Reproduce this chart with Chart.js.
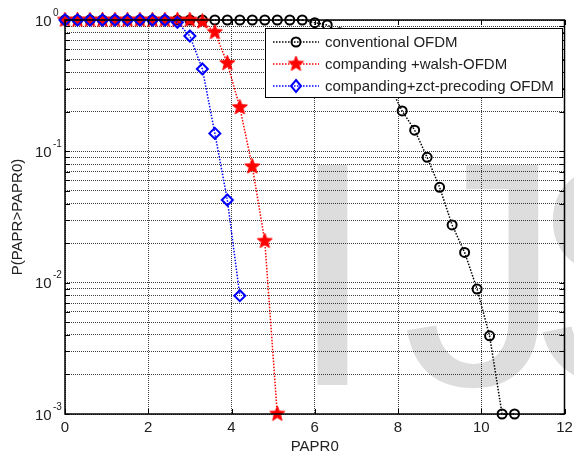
<!DOCTYPE html>
<html><head><meta charset="utf-8">
<script src="https://cdn.jsdelivr.net/npm/chart.js@4.4.1/dist/chart.umd.min.js"></script>
<style>html,body{margin:0;padding:0;background:#fff}#wrap{width:574px;height:456px;position:relative}</style>
</head><body><div id="wrap"><canvas id="c"></canvas></div>
<script>
/* ---- data ---- */
const xConv=[0,0.3,0.6,0.9,1.2,1.5,1.8,2.1,2.4,2.7,3.0,3.3,3.6,3.9,4.2,4.5,4.8,5.1,5.4,5.7,6.0,6.3,6.6,6.9,7.2,7.5,7.8,8.1,8.4,8.7,9.0,9.3,9.6,9.9,10.2,10.5,10.8];
const pConv=[1,1,1,1,1,1,1,1,1,1,1,1,1,1,1,1,1,1,1,1,0.954,0.916,0.8,0.68,0.56,0.44,0.315,0.203,0.145,0.0901,0.0532,0.0275,0.017,0.00895,0.00394,0.001,0.001];
const xWalsh=[0,0.3,0.6,0.9,1.2,1.5,1.8,2.1,2.4,2.7,3.0,3.3,3.6,3.9,4.2,4.5,4.8,5.1];
const pWalsh=[1,1,1,1,1,1,1,1,1,1,1,0.97,0.806,0.468,0.216,0.0764,0.0207,0.001];
const xZct=[0,0.3,0.6,0.9,1.2,1.5,1.8,2.1,2.4,2.7,3.0,3.3,3.6,3.9,4.2];
const pZct=[1,1,1,1,1,1,1,1,1,0.96,0.755,0.424,0.137,0.0426,0.00796];
const names=['conventional OFDM','companding +walsh-OFDM','companding+zct-precoding OFDM'];
const xTicks=[0,2,4,6,8,10,12];
const decades=[1,0.1,0.01,0.001];

const FONT='"Liberation Sans", Arial, sans-serif';
const pts=(xs,ys)=>xs.map((x,i)=>({x,y:ys[i]}));

// filled pentagram marker (matlab 'p')
function starImg(){
  const c=document.createElement('canvas');c.width=17;c.height=17;
  const g=c.getContext('2d');g.beginPath();
  for(let k=0;k<10;k++){
    const r=k%2?3.4:8,a=-Math.PI/2+k*Math.PI/5;
    g.lineTo(8.5+r*Math.cos(a),8.5+r*Math.sin(a));
  }
  g.closePath();g.fillStyle='#ff0000';g.fill();g.strokeStyle='#ff0000';g.lineWidth=1;g.stroke();
  return c;
}
const star=starImg();

const frame={id:'frame',
  beforeDraw(ch){
    // faint "IJS" watermark sitting behind the grid
    const ctx=ch.ctx;ctx.save();
    ctx.fillStyle='#dddddd';ctx.font='320px '+FONT;ctx.textBaseline='alphabetic';
    ctx.fillText('I',288,385);ctx.fillText('J',402,385);ctx.fillText('S',528,385);
    ctx.restore();
  },
  afterDraw(ch){
    const{ctx,chartArea:a,scales:{x,y}}=ch;ctx.save();
    // axes box + inward ticks
    ctx.strokeStyle='#000';ctx.lineWidth=1.5;ctx.setLineDash([]);
    ctx.strokeRect(a.left,a.top,a.right-a.left,a.bottom-a.top);
    ctx.lineWidth=1;ctx.beginPath();
    y.ticks.forEach(t=>{const py=Math.round(y.getPixelForValue(t.value))+.5;
      ctx.moveTo(a.left,py);ctx.lineTo(a.left+5,py);ctx.moveTo(a.right,py);ctx.lineTo(a.right-5,py);});
    xTicks.forEach(v=>{const px=Math.round(x.getPixelForValue(v))+.5;
      ctx.moveTo(px,a.bottom);ctx.lineTo(px,a.bottom-5);ctx.moveTo(px,a.top);ctx.lineTo(px,a.top+5);});
    ctx.stroke();
    // y labels 10^k
    ctx.fillStyle='#222';ctx.textBaseline='middle';ctx.textAlign='left';
    decades.forEach(v=>{
      const py=y.getPixelForValue(v);
      ctx.font='15px '+FONT;ctx.fillText('10',35,py+1.5);
      ctx.font='10px '+FONT;ctx.fillText(String(Math.round(Math.log10(v))),53,py-7);
    });
    // legend
    const L=265,T=28,R=562,B=97;
    ctx.fillStyle='#fff';ctx.fillRect(L,T,R-L,B-T);
    ctx.strokeStyle='#000';ctx.lineWidth=1;ctx.strokeRect(L+.5,T+.5,R-L,B-T);
    const rows=[42,64,86],cols=['#000','#ff0000','#0000ff'];
    rows.forEach((ry,i)=>{
      ctx.strokeStyle=cols[i];ctx.lineWidth=1.5;ctx.setLineDash([1.5,1.5]);
      ctx.beginPath();ctx.moveTo(273,ry);ctx.lineTo(319,ry);ctx.stroke();ctx.setLineDash([]);
      ctx.lineWidth=2;
      if(i===0){ctx.beginPath();ctx.arc(296,ry,4.5,0,Math.PI*2);ctx.stroke();}
      if(i===1){ctx.drawImage(star,296-8.5,ry-8.5);}
      if(i===2){ctx.beginPath();ctx.moveTo(296,ry-6);ctx.lineTo(301,ry);ctx.lineTo(296,ry+6);ctx.lineTo(291,ry);ctx.closePath();ctx.stroke();}
      ctx.fillStyle='#222';ctx.font='15px '+FONT;ctx.fillText(names[i],325,ry+1);
    });
    ctx.restore();
  }
};

const gridDots={color:'rgba(0,0,0,0.75)',lineWidth:1,drawTicks:false};
new Chart(document.getElementById('c'),{type:'line',
  data:{datasets:[
    {label:names[0],data:pts(xConv,pConv),borderColor:'#000',borderWidth:1.5,borderDash:[1.5,1.5],
     pointStyle:'circle',pointRadius:4.5,pointBorderWidth:2,pointBorderColor:'#000',pointBackgroundColor:'rgba(0,0,0,0)',order:3,clip:false},
    {label:names[1],data:pts(xWalsh,pWalsh),borderColor:'#ff0000',borderWidth:1.5,borderDash:[1.5,1.5],
     pointStyle:star,pointRadius:8,order:2,clip:false},
    {label:names[2],data:pts(xZct,pZct),borderColor:'#0000ff',borderWidth:1.5,borderDash:[1.5,1.5],
     pointStyle:'rectRot',pointRadius:5.5,pointBorderWidth:2,pointBorderColor:'#0000ff',pointBackgroundColor:'rgba(0,0,0,0)',order:1,clip:false}
  ]},
  options:{responsive:true,maintainAspectRatio:false,animation:false,
    layout:{padding:{top:20,right:8,left:0,bottom:0}},
    plugins:{legend:{display:false},tooltip:{enabled:false}},
    scales:{
      x:{type:'linear',min:0,max:12,afterFit:s=>{s.height=42;s.paddingLeft=0;s.paddingRight=0;},
        afterBuildTicks:s=>{s.ticks=xTicks.map(v=>({value:v}));},
        grid:gridDots,border:{display:false,dash:[1,1]},
        ticks:{color:'#222',font:{family:FONT,size:15},padding:5,autoSkip:false,maxRotation:0},
        title:{display:true,text:'PAPR0',color:'#222',font:{family:FONT,size:15},padding:{top:0,bottom:0}}},
      y:{type:'logarithmic',min:0.001,max:1,afterFit:s=>{s.width=65;s.paddingTop=0;s.paddingBottom=0;},
        afterBuildTicks:s=>{const t=[];[0.001,0.01,0.1].forEach(d=>{for(let m=1;m<10;m++)t.push({value:+(d*m).toPrecision(3)});});t.push({value:1});s.ticks=t;},
        grid:gridDots,border:{display:false,dash:[1,1]},
        ticks:{display:false,autoSkip:false},
        title:{display:true,text:'P(PAPR>PAPR0)',color:'#222',font:{family:FONT,size:15},padding:{top:9,bottom:0}}}
    }},
  plugins:[frame]
});
</script></body></html>
